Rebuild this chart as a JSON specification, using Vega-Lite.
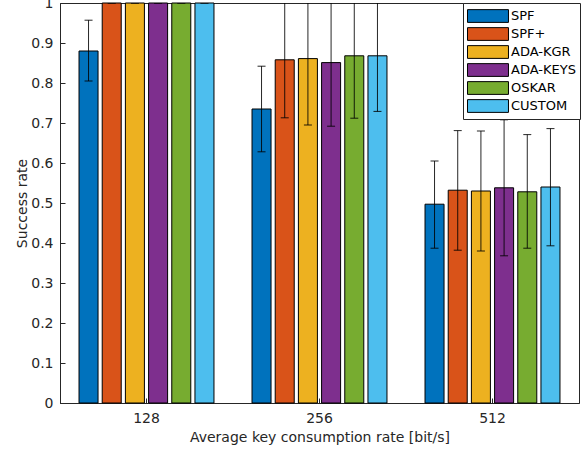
{
  "$schema": "https://vega.github.io/schema/vega-lite/v6.json",
  "width": 519,
  "height": 400,
  "autosize": {"type": "none"},
  "padding": {"left": 60, "top": 3, "right": 5, "bottom": 50},
  "background": "white",
  "config": {
    "font": "DejaVu Sans",
    "view": {"stroke": "#262626", "strokeWidth": 1},
    "axis": {
      "domainColor": "#262626",
      "tickColor": "#262626",
      "labelColor": "#262626",
      "titleColor": "#262626",
      "labelFont": "DejaVu Sans",
      "titleFont": "DejaVu Sans",
      "labelFontSize": 14,
      "titleFontSize": 14,
      "titleFontWeight": "normal",
      "grid": false,
      "tickSize": -5,
      "labelOverlap": false
    }
  },
  "data": {
    "values": [
      {"rate": "128", "method": "SPF", "value": 0.88, "lo": 0.805, "hi": 0.957},
      {"rate": "128", "method": "SPF+", "value": 1.0, "lo": 1.0, "hi": 1.0},
      {"rate": "128", "method": "ADA-KGR", "value": 1.0, "lo": 1.0, "hi": 1.0},
      {"rate": "128", "method": "ADA-KEYS", "value": 1.0, "lo": 1.0, "hi": 1.0},
      {"rate": "128", "method": "OSKAR", "value": 1.0, "lo": 1.0, "hi": 1.0},
      {"rate": "128", "method": "CUSTOM", "value": 1.0, "lo": 1.0, "hi": 1.0},
      {"rate": "256", "method": "SPF", "value": 0.735, "lo": 0.628, "hi": 0.842},
      {"rate": "256", "method": "SPF+", "value": 0.858, "lo": 0.713, "hi": 1.003},
      {"rate": "256", "method": "ADA-KGR", "value": 0.861, "lo": 0.695, "hi": 1.027},
      {"rate": "256", "method": "ADA-KEYS", "value": 0.851, "lo": 0.692, "hi": 1.01},
      {"rate": "256", "method": "OSKAR", "value": 0.868, "lo": 0.712, "hi": 1.024},
      {"rate": "256", "method": "CUSTOM", "value": 0.868, "lo": 0.729, "hi": 1.007},
      {"rate": "512", "method": "SPF", "value": 0.497, "lo": 0.387, "hi": 0.605},
      {"rate": "512", "method": "SPF+", "value": 0.532, "lo": 0.382, "hi": 0.681},
      {"rate": "512", "method": "ADA-KGR", "value": 0.53, "lo": 0.38, "hi": 0.68},
      {"rate": "512", "method": "ADA-KEYS", "value": 0.538, "lo": 0.368, "hi": 0.708},
      {"rate": "512", "method": "OSKAR", "value": 0.528, "lo": 0.387, "hi": 0.671},
      {"rate": "512", "method": "CUSTOM", "value": 0.54, "lo": 0.393, "hi": 0.686}
    ]
  },
  "encoding": {
    "x": {
      "field": "rate", "type": "nominal", "sort": ["128", "256", "512"],
      "scale": {"paddingInner": 0.22, "paddingOuter": 0.11},
      "axis": {"title": "Average key consumption rate [bit/s]", "labelAngle": 0, "labelPadding": 13, "titlePadding": 5}
    },
    "xOffset": {
      "field": "method", "type": "nominal",
      "sort": ["SPF", "SPF+", "ADA-KGR", "ADA-KEYS", "OSKAR", "CUSTOM"],
      "scale": {"paddingInner": 0.18, "paddingOuter": 0}
    }
  },
  "layer": [
    {
      "mark": {"type": "bar", "stroke": "#000000", "strokeWidth": 1},
      "encoding": {
        "y": {
          "field": "value", "type": "quantitative",
          "scale": {"domain": [0, 1], "nice": false},
          "axis": {"title": "Success rate", "values": [0, 0.1, 0.2, 0.3, 0.4, 0.5, 0.6, 0.7, 0.8, 0.9, 1], "format": ".1~f", "labelPadding": 12, "titlePadding": 1, "labelOverlap": false}
        },
        "color": {
          "field": "method", "type": "nominal",
          "scale": {
            "domain": ["SPF", "SPF+", "ADA-KGR", "ADA-KEYS", "OSKAR", "CUSTOM"],
            "range": ["#0072BD", "#D95319", "#EDB120", "#7E2F8E", "#77AC30", "#4DBEEE"]
          },
          "legend": {
            "title": null,
            "orient": "none",
            "legendX": 403,
            "legendY": 0,
            "padding": 4,
            "strokeColor": "#262626",
            "fillColor": "white",
            "symbolType": "M-1,-0.75H3.82V0.75H-1Z",
            "symbolSize": 289,
            "symbolStrokeColor": "#000000",
            "symbolStrokeWidth": 1,
            "symbolOpacity": 1,
            "labelFont": "DejaVu Sans",
            "labelFontSize": 13,
            "labelColor": "#000000",
            "labelAlign": "left",
            "labelOffset": 26,
            "rowPadding": 0
          }
        }
      }
    },
    {
      "mark": {"type": "rule", "color": "#000000", "strokeWidth": 1, "opacity": 0.85, "clip": true},
      "encoding": {
        "y": {"field": "lo", "type": "quantitative", "axis": {"title": "Success rate", "values": [0, 0.1, 0.2, 0.3, 0.4, 0.5, 0.6, 0.7, 0.8, 0.9, 1], "format": ".1~f", "labelPadding": 12, "titlePadding": 1, "labelOverlap": false}},
        "y2": {"field": "hi"}
      }
    },
    {
      "mark": {"type": "tick", "color": "#000000", "size": 8, "thickness": 1, "opacity": 0.85, "clip": true},
      "encoding": {"y": {"field": "lo", "type": "quantitative", "axis": {"title": "Success rate", "values": [0, 0.1, 0.2, 0.3, 0.4, 0.5, 0.6, 0.7, 0.8, 0.9, 1], "format": ".1~f", "labelPadding": 12, "titlePadding": 1, "labelOverlap": false}}}
    },
    {
      "mark": {"type": "tick", "color": "#000000", "size": 8, "thickness": 1, "opacity": 0.85, "clip": true},
      "encoding": {"y": {"field": "hi", "type": "quantitative", "axis": {"title": "Success rate", "values": [0, 0.1, 0.2, 0.3, 0.4, 0.5, 0.6, 0.7, 0.8, 0.9, 1], "format": ".1~f", "labelPadding": 12, "titlePadding": 1, "labelOverlap": false}}}
    }
  ]
}
